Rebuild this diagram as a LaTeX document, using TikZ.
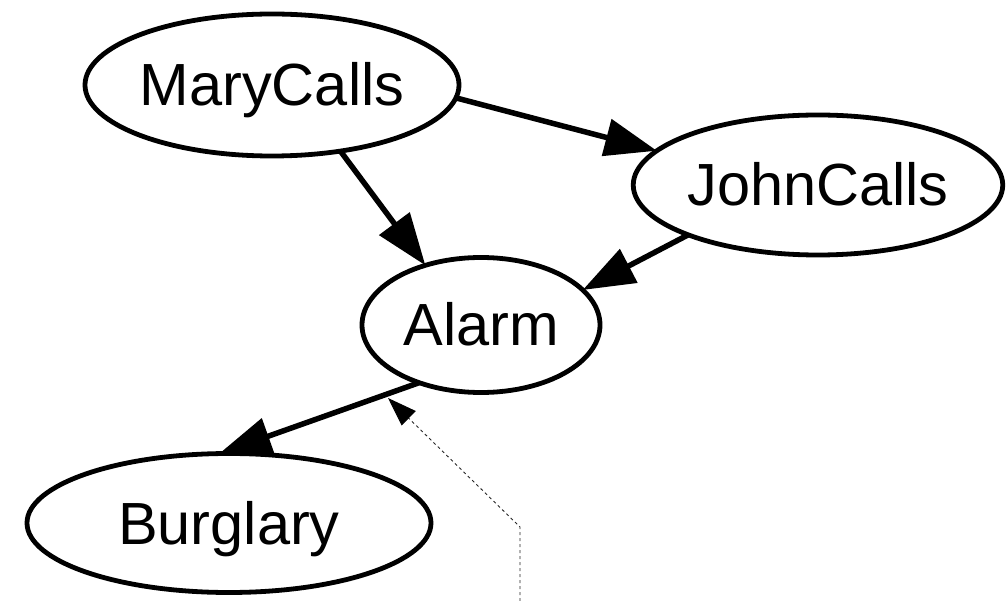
\documentclass[tikz,border=0pt]{standalone}
\usepackage{fontspec}
\setmainfont{Liberation Sans}
\usetikzlibrary{shapes.geometric,arrows.meta}
\begin{document}
\begin{tikzpicture}[x=1pt,y=-1pt,
  bnode/.style={ellipse,draw=black,line width=4.8pt,inner sep=0pt,outer sep=0pt,
    font=\fontsize{59.5}{62}\selectfont,text height=42pt,text depth=0pt},
  edge/.style={line width=5.5pt,-{Triangle[length=52pt,width=37pt]}},
  note/.style={line width=0.9pt,dash pattern=on 3pt off 3pt,black!85,
    -{Triangle[length=29pt,width=20pt,color=black]}}]
\useasboundingbox (0,0) rectangle (1007,601);
\node[bnode,minimum width=367pt,minimum height=142pt] (mary) at (272,85) {MaryCalls};
\node[bnode,minimum width=359pt,minimum height=140pt] (john) at (818,185) {JohnCalls};
\node[bnode,minimum width=238pt,minimum height=135pt] (alarm) at (481,325) {Alarm};
\node[bnode,minimum width=404pt,minimum height=139pt] (burg) at (229,523) {Burglary};
\draw[edge] (mary.-4) -- (john.168.9);
\draw[edge] (mary.-44.6) -- (alarm.133);
\draw[edge] (john.-159.7) -- (alarm.19.4);
\draw[edge] (alarm.-137.6) -- (burg.98.8);
\coordinate (d0) at (520,601);
\coordinate (d1) at (520,527);
\coordinate (dt) at (388,398);
\draw[note] (d0) -- (d1) -- (dt);
\end{tikzpicture}
\end{document}
